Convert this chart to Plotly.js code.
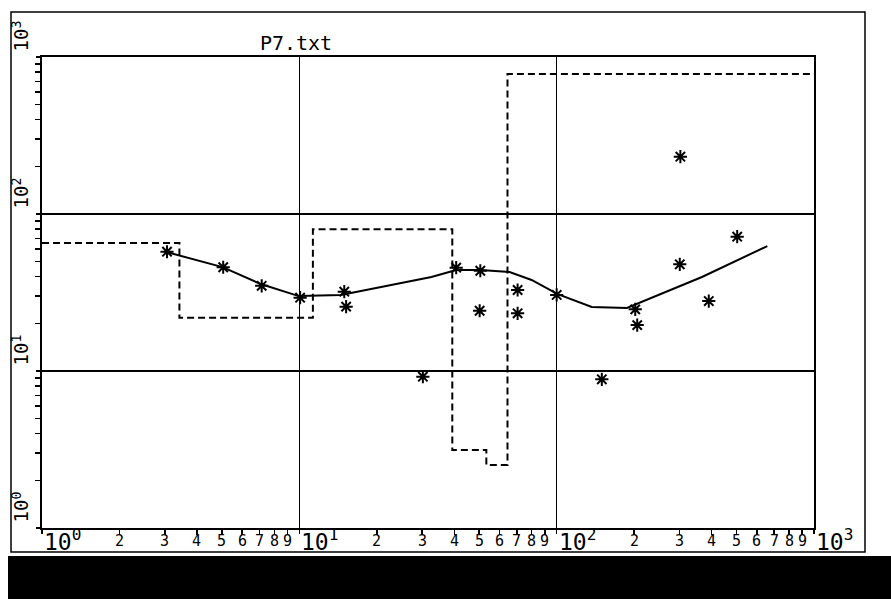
<!DOCTYPE html>
<html>
<head>
<meta charset="utf-8">
<script src="https://cdn.plot.ly/plotly-3.0.1.min.js"></script>
<style>html,body{margin:0;padding:0;background:#fff;}#chart{width:891px;height:599px;}</style>
</head>
<body>
<div id="chart"></div>
<script>
// Observed points (asterisks)
const obsX = [3.06, 5.06, 7.14, 10.07, 14.95, 15.2, 30.2, 40.7, 50.5, 50.2, 70.5, 70.5, 100, 149.8, 202, 205.6, 302.5, 300.9, 390, 503];
const obsY = [57.5, 45.8, 34.9, 29.3, 32.0, 25.7, 9.2, 45.5, 43.5, 24.2, 32.8, 23.3, 30.5, 8.85, 24.7, 19.6, 231.7, 47.8, 27.9, 71.7];

// Model response curve (solid)
const fitX = [3.04, 5.03, 7.08, 9.95, 14.5, 22.7, 32.6, 40.7, 50.5, 65.6, 79.9, 100.9, 136.9, 187.5, 367, 658.6];
const fitY = [57.3, 45.9, 35.8, 30.0, 30.5, 35.3, 39.7, 44.0, 44.0, 42.7, 38.0, 30.9, 25.6, 25.2, 39.7, 62.5];

// Layered model (dashed step profile)
const stepX = [1, 3.42, 3.42, 11.29, 11.29, 39.3, 39.3, 53.3, 53.3, 64.4, 64.4, 1000];
const stepY = [65.4, 65.4, 21.8, 21.8, 79.9, 79.9, 3.14, 3.14, 2.52, 2.52, 779, 779];

// Tick labels
const decadeVals = [1, 10, 100, 1000];
const decadeExps = ['0', '1', '2', '3'];
const minorDigits = [2, 3, 4, 5, 6, 7, 8, 9];
const titleText = 'P7.txt';

const FONT = 'DejaVu Sans Mono, Liberation Mono, monospace';

const minorVals = [];
[1, 10, 100].forEach(d => minorDigits.forEach(m => minorVals.push(d * m)));

const annotations = [];
// x decade labels
decadeVals.forEach((v, i) => {
  annotations.push({
    xref: 'x', yref: 'paper', x: Math.log10(v), y: 0,
    xanchor: 'left', yanchor: 'top', yshift: 5, xshift: 0,
    text: '10<sup>' + decadeExps[i] + '</sup>', showarrow: false,
    font: {family: FONT, size: 23, color: '#000'}
  });
});
// x minor digit labels
[1, 10, 100].forEach(d => minorDigits.forEach(m => {
  annotations.push({
    xref: 'x', yref: 'paper', x: Math.log10(d * m), y: 0,
    xanchor: 'center', yanchor: 'top', yshift: -2,
    text: String(m), showarrow: false,
    font: {family: FONT, size: 15, color: '#000'}
  });
}));
// y decade labels (rotated)
decadeVals.forEach((v, i) => {
  annotations.push({
    xref: 'paper', yref: 'y', x: 0, y: Math.log10(v),
    xanchor: 'right', yanchor: 'bottom', xshift: -8, yshift: 3,
    textangle: -90,
    text: '10<sup>' + decadeExps[i] + '</sup>', showarrow: false,
    font: {family: FONT, size: 19, color: '#000'}
  });
});

const L = 42, R = 814, T = 57, B = 528, W = 891, H = 599;
const px = x => (x - L) / (R - L);
const py = y => (B - y) / (B - T);

const shapes = [
  {type: 'rect', xref: 'paper', yref: 'paper', x0: px(11), x1: px(865), y0: py(552), y1: py(12),
   line: {color: '#000', width: 1.5}, fillcolor: 'rgba(0,0,0,0)', layer: 'below'},
  {type: 'rect', xref: 'paper', yref: 'paper', x0: px(8), x1: px(900), y0: py(610), y1: py(556),
   line: {width: 0}, fillcolor: '#000'}
];

const traces = [
  {x: stepX, y: stepY, mode: 'lines', line: {color: '#000', width: 2, dash: '7px,4px'}, hoverinfo: 'skip'},
  {x: fitX, y: fitY, mode: 'lines', line: {color: '#000', width: 2}, hoverinfo: 'skip'},
  {x: obsX, y: obsY, mode: 'markers', marker: {symbol: 'asterisk-open', size: 11, color: '#000', line: {color: '#000', width: 2}}}
];

const axisCommon = {
  type: 'log', range: [0, 3], showline: true, mirror: true, linecolor: '#000', linewidth: 2,
  tickmode: 'array', tickvals: decadeVals, showticklabels: false,
  ticks: 'outside', ticklen: 4, tickcolor: '#000', tickwidth: 1.5,
  showgrid: true, gridcolor: '#000', gridwidth: 1.5, zeroline: false,
  minor: {tickmode: 'array', tickvals: minorVals, ticks: 'outside', ticklen: 5, tickcolor: '#000', tickwidth: 1.5, showgrid: false}
};

const layout = {
  width: W, height: H,
  margin: {l: L, r: W - R, t: T, b: H - B, pad: 0},
  paper_bgcolor: '#fff', plot_bgcolor: '#fff',
  showlegend: false,
  title: {text: titleText, font: {family: FONT, size: 20, color: '#000'},
          x: px(296), xref: 'paper', xanchor: 'center', y: 1 - 43 / H, yref: 'container', yanchor: 'middle'},
  xaxis: Object.assign({}, axisCommon),
  yaxis: Object.assign({}, axisCommon),
  annotations: annotations,
  shapes: shapes
};

Plotly.newPlot('chart', traces, layout, {staticPlot: true, displayModeBar: false});
</script>
</body>
</html>
